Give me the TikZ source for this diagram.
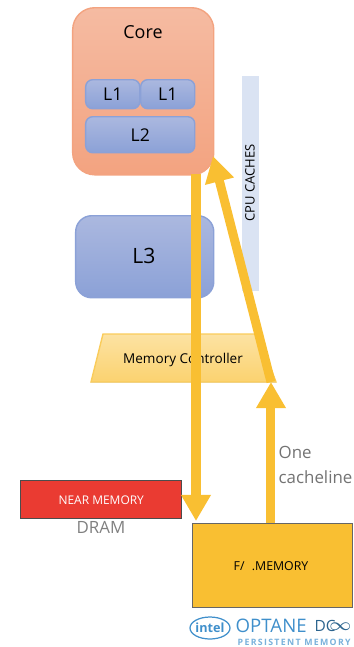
\documentclass[tikz,border=0pt]{standalone}
\usepackage{fontspec}
\setmainfont{Open Sans}
\usetikzlibrary{arrows.meta,calc}
\definecolor{arrowyellow}{HTML}{F9BF32}
\definecolor{cacheblue}{HTML}{DAE3F3}
\definecolor{logoblue}{HTML}{3F8FCB}
\definecolor{coretop}{HTML}{F5BBA2}
\definecolor{corebottom}{HTML}{F3A380}
\definecolor{cachetop}{HTML}{ABB8DF}
\definecolor{cachebottom}{HTML}{8BA1D7}
\definecolor{nearred}{HTML}{EA3B32}
\tikzset{
	box/.style={draw,rounded corners=#1,inner sep=0pt,anchor=north west},
	box/.default=2mm,
	blue box/.style={box=#1,draw=cachebottom,top color=cachetop,bottom color=cachebottom},
	blue box/.default=0.7mm,
	data arrow/.style={draw=arrowyellow,line width=0.9mm,-{Triangle[length=2.6mm,width=2.8mm]}},
}
\begin{document}
\begin{tikzpicture}[x=0.01cm,y=-0.01cm]
	\useasboundingbox (0,0) rectangle (354,647);
	\node[box=2.2mm,draw=corebottom,top color=coretop,bottom color=corebottom,minimum width=1.41cm,minimum height=1.67cm] (core) at (72,7) {};
	\node at (143,32) {\fontsize{5.1pt}{6pt}\selectfont Core};
	\node[blue box,minimum width=0.54cm,minimum height=0.29cm] (l1a) at (85,79) {};
	\node[blue box,minimum width=0.54cm,minimum height=0.29cm] (l1b) at (140,79) {};
	\node[blue box,minimum width=1.09cm,minimum height=0.36cm] (l2) at (85,116) {};
	\node at (l1a.center) {\fontsize{5pt}{6pt}\selectfont L1};
	\node at (l1b.center) {\fontsize{5pt}{6pt}\selectfont L1};
	\node at (l2.center) {\fontsize{5pt}{6pt}\selectfont L2};
	\node[blue box=1.6mm,minimum width=1.38cm,minimum height=0.82cm] (l3) at (75,215) {};
	\node at (144,256) {\fontsize{6pt}{8pt}\selectfont L3};
	\node[box=0pt,draw=none,fill=cacheblue,minimum width=0.17cm,minimum height=2.15cm] (caches) at (241,75) {};
	\node[rotate=90] at (250,183) {\fontsize{3.7pt}{4pt}\selectfont CPU CACHES};
	\fill[top color=arrowyellow!45!white,bottom color=arrowyellow!70!white,draw=arrowyellow!80!white]
		(103,334) -- (258,334) -- (276,382) -- (91,382) -- cycle;
	\node at (183,360) {\fontsize{3.85pt}{5pt}\selectfont Memory Controller};
	\node[box=0pt,draw=black!70,fill=nearred,minimum width=1.61cm,minimum height=0.38cm] (near) at (20,480) {};
	\node[text=white] at (near.center) {\fontsize{3.4pt}{4pt}\selectfont NEAR MEMORY};
	\node[text=gray] at (101,527) {\fontsize{4.8pt}{6pt}\selectfont DRAM};
	\node[box=0pt,draw=black!60,fill=arrowyellow,minimum width=1.60cm,minimum height=0.84cm] (far) at (192,523) {};
	\node at (271,566) {\fontsize{3.5pt}{4pt}\selectfont F/\hspace{0.6em}.MEMORY};
	\node[text=black!55,align=left,anchor=west,inner sep=0pt,font=\fontsize{4.8pt}{6.9pt}\selectfont] at (278,465) {One\\cacheline};
	\coordinate (down start) at (196,174);
	\coordinate (down end) at (196,521);
	\coordinate (up start) at (271,523);
	\coordinate (up end) at (271,382);
	\coordinate (back end) at (213,156);
	\draw[data arrow] (down start) -- (down end);
	\draw[data arrow] (up start) -- (up end);
	\draw[data arrow] (up end) -- (back end);
	% logo
	\draw[logoblue,line width=0.35pt] (210,628) ellipse (20 and 11);
	\node[text=logoblue] at (210,628) {\fontsize{3.6pt}{5pt}\selectfont\bfseries intel};
	\node[text=logoblue,anchor=west,inner sep=0pt] at (235,626) {\fontsize{5.3pt}{7pt}\selectfont OPTANE};
	\node[text=logoblue!70!black,anchor=west,inner sep=0pt] at (314,626) {\fontsize{4.4pt}{7pt}\selectfont DC};
	\node[text=logoblue!70!black,anchor=east,inner sep=0pt] at (353,627) {\fontsize{4pt}{7pt}\selectfont$\infty$};
	\node[text=logoblue!70!white,anchor=west,inner sep=0pt] at (237,642) {\fontsize{2.5pt}{4pt}\selectfont\bfseries\addfontfeature{LetterSpace=15}PERSISTENT MEMORY};
\end{tikzpicture}
\end{document}
